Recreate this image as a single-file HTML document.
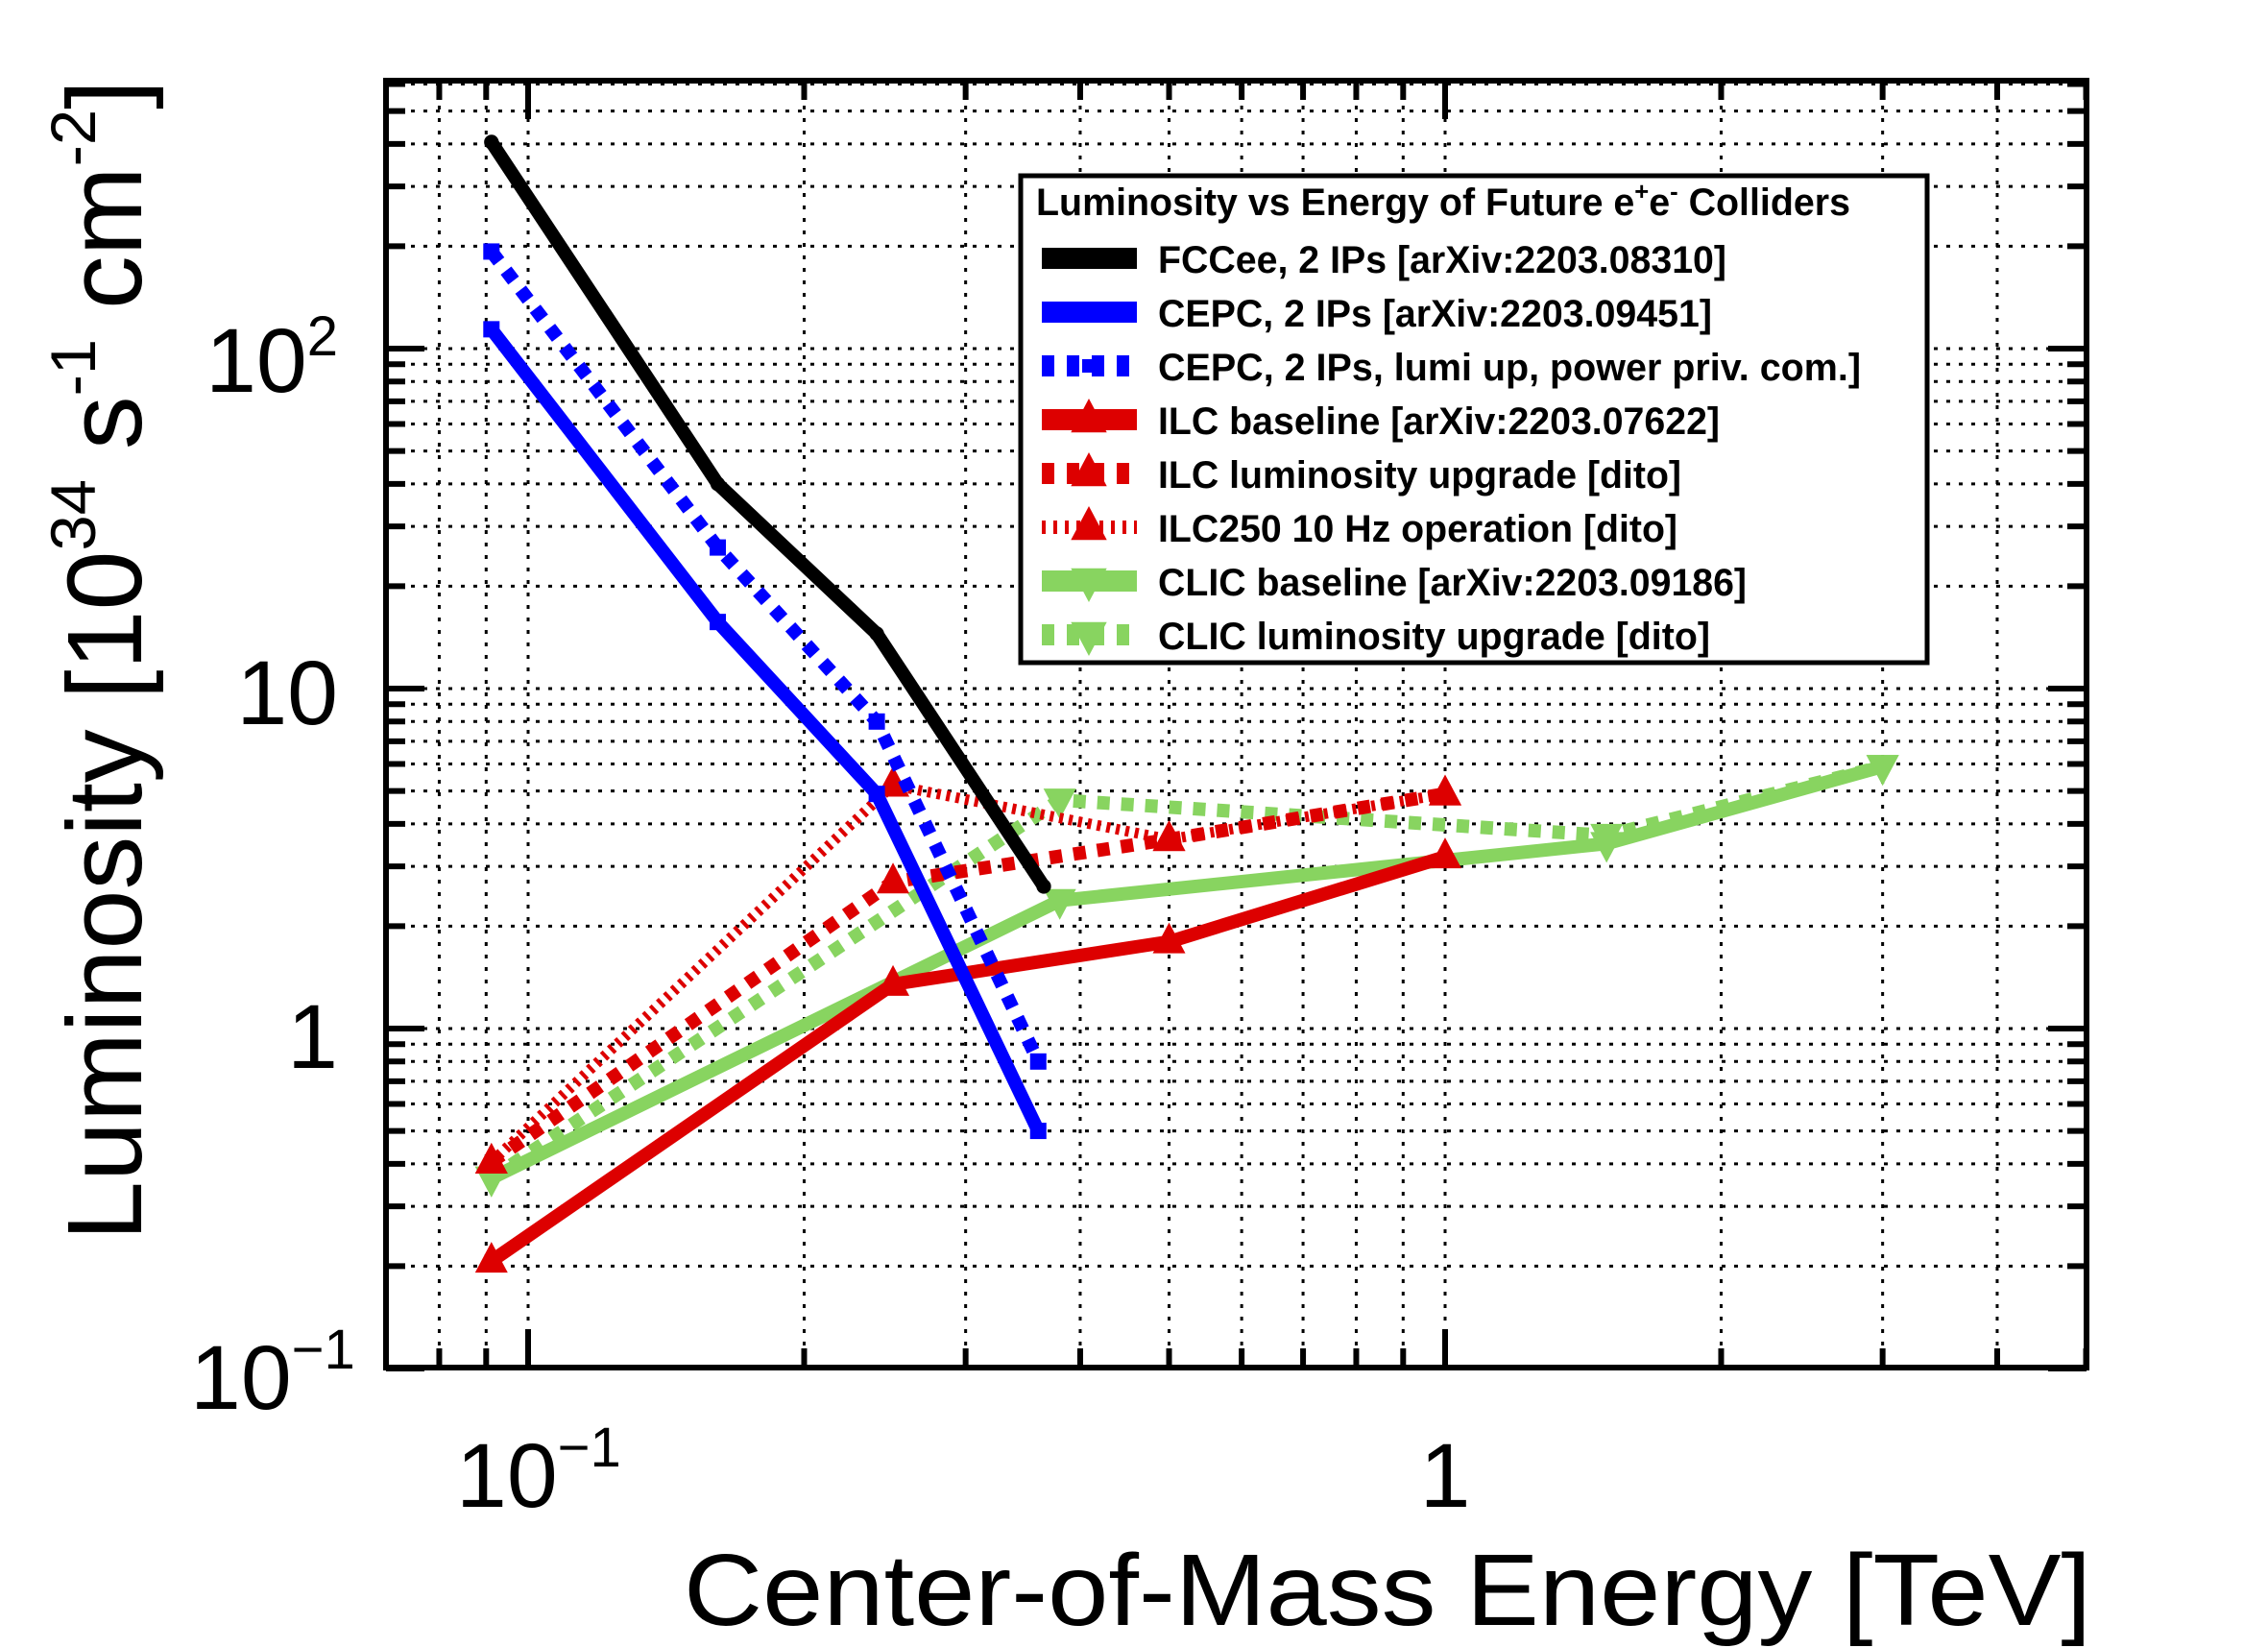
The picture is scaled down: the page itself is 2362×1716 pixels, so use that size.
<!DOCTYPE html>
<html><head><meta charset="utf-8"><style>
html,body{margin:0;padding:0;background:#fff}
svg{display:block}
text{font-family:"Liberation Sans",sans-serif}
.leg{font-family:"Liberation Sans Narrow","Liberation Sans",sans-serif;font-weight:bold;font-size:40px}
</style></head><body>
<svg id="chart" width="2362" height="1716" viewBox="0 0 2362 1716" xmlns="http://www.w3.org/2000/svg">
<g id="grid"></g>
<g id="ticks"></g>
<g id="series"></g>
<rect x="402" y="84" width="1771" height="1340" fill="none" stroke="#000" stroke-width="6"/>
<g font-size="95">
<text x="352" y="408" text-anchor="end">10<tspan font-size="58" dy="-38">2</tspan></text>
<text x="352" y="754" text-anchor="end">10</text>
<text x="352" y="1112" text-anchor="end">1</text>
<text x="198" y="1467">10<tspan font-size="58" dy="-42">−1</tspan></text>
</g>
<g font-size="95">
<text x="475" y="1569">10<tspan font-size="58" dy="-42">−1</tspan></text>
<text x="1505" y="1569" text-anchor="middle">1</text>
</g>
<text x="712" y="1692" font-size="106" textLength="1466" lengthAdjust="spacingAndGlyphs">Center-of-Mass Energy [TeV]</text>
<text transform="translate(147,1292) rotate(-90)" font-size="110" textLength="1209" lengthAdjust="spacingAndGlyphs">Luminosity [10<tspan font-size="66" dy="-48">34</tspan><tspan dy="48"> s</tspan><tspan font-size="66" dy="-48">-1</tspan><tspan dy="48"> cm</tspan><tspan font-size="66" dy="-48">-2</tspan><tspan dy="48">]</tspan></text>
<g id="legend">
<rect x="1063" y="183" width="944" height="507" fill="#fff" stroke="#000" stroke-width="5"/>
<text class="leg" x="1079" y="224" textLength="848" lengthAdjust="spacingAndGlyphs">Luminosity vs Energy of Future e<tspan font-size="26" dy="-16">+</tspan><tspan dy="16">e</tspan><tspan font-size="26" dy="-16">-</tspan><tspan dy="16"> Colliders</tspan></text>
</g>
</svg>
<script>
const xCategoriesFCC = [0.0912, 0.161, 0.24, 0.365];
const fccValues = [405, 40, 14.5, 2.62];
const xCategoriesCEPC = [0.0912, 0.161, 0.24, 0.36];
const cepcValues = [114, 15.7, 4.9, 0.5];
const cepcUpValues = [193, 26, 8.0, 0.8];
const xCategoriesILC = [0.0912, 0.25, 0.5, 1.0];
const ilcValues = [0.207, 1.35, 1.8, 3.2];
const ilcUpValues = [0.405, 2.7, 3.6, 4.9];
const ilc10HzValues = [0.405, 5.2, 3.6, 4.9];
const xCategoriesCLIC = [0.0912, 0.38, 1.5, 3.0];
const clicValues = [0.363, 2.38, 3.5, 5.9];
const clicUpValues = [0.363, 4.7, 3.7, 5.9];
const legendLabels = ["FCCee, 2 IPs [arXiv:2203.08310]","CEPC, 2 IPs [arXiv:2203.09451]","CEPC, 2 IPs, lumi up, power priv. com.]","ILC baseline [arXiv:2203.07622]","ILC luminosity upgrade [dito]","ILC250 10 Hz operation [dito]","CLIC baseline [arXiv:2203.09186]","CLIC luminosity upgrade [dito]"];
const legendWidths = [592, 577, 732, 585, 545, 541, 613, 575];

const NS="http://www.w3.org/2000/svg";
const L=402,R=2173,T=84,B=1424;
const X1=1505,XDEC=955, Y1=1071,YDEC=354;
function xs(v){return X1+Math.log10(v)*XDEC;}
function ys(v){return Y1-Math.log10(v)*YDEC;}
function mk(tag,attrs,parent){const e=document.createElementNS(NS,tag);for(const k in attrs)e.setAttribute(k,attrs[k]);parent.appendChild(e);return e;}

const grid=document.getElementById('grid'), ticks=document.getElementById('ticks');
const xg=[0.08,0.09]; for(let d=-1;d<=0;d++)for(let m=1;m<=9;m++){const v=m*Math.pow(10,d);if(v<=5)xg.push(v);}
xg.forEach(v=>{const x=xs(v);
  const g=mk('line',{x1:x,x2:x,y1:T,y2:B,stroke:'#000','stroke-width':3,'stroke-dasharray':'4 9'},grid);
  
  const major=Math.abs(Math.log10(v)-Math.round(Math.log10(v)))<1e-6;const len=major?40:20;
  const t1=mk('line',{x1:x,x2:x,y1:B,y2:B-len,stroke:'#000','stroke-width':6},ticks);
  
  const t2=mk('line',{x1:x,x2:x,y1:T,y2:T+len,stroke:'#000','stroke-width':6},ticks);
  
});
const yg=[]; for(let d=-1;d<=2;d++)for(let m=1;m<=9;m++){const v=m*Math.pow(10,d);if(v<=600)yg.push(v);}
yg.forEach(v=>{const y=ys(v);
  if(v>0.1){const g=mk('line',{x1:L,x2:R,y1:y,y2:y,stroke:'#000','stroke-width':3,'stroke-dasharray':'4 9'},grid);
  }
  const major=Math.abs(Math.log10(v)-Math.round(Math.log10(v)))<1e-6;const len=major?40:20;
  const t1=mk('line',{x1:L,x2:L+len,y1:y,y2:y,stroke:'#000','stroke-width':6},ticks);
  
  const t2=mk('line',{x1:R,x2:R-len,y1:y,y2:y,stroke:'#000','stroke-width':6},ticks);
  
});

const series=[
 {xs:xCategoriesFCC,vals:fccValues,color:'#000',dash:null,mark:'circle',name:'fccee'},
 {xs:xCategoriesCEPC,vals:cepcValues,color:'#0000ff',dash:null,mark:'square',name:'cepc'},
 {xs:xCategoriesCEPC,vals:cepcUpValues,color:'#0000ff',dash:'13 12',mark:'square',name:'cepc-lumi-up'},
 {xs:xCategoriesILC,vals:ilcValues,color:'#dd0000',dash:null,mark:'tri-up',name:'ilc-baseline'},
 {xs:xCategoriesILC,vals:ilcUpValues,color:'#dd0000',dash:'13 12',mark:'tri-up',name:'ilc-upgrade'},
 {xs:xCategoriesILC,vals:ilc10HzValues,color:'#dd0000',dash:'4 6',mark:'tri-up',name:'ilc250-10hz'},
 {xs:xCategoriesCLIC,vals:clicValues,color:'#88d460',dash:null,mark:'tri-down',name:'clic-baseline'},
 {xs:xCategoriesCLIC,vals:clicUpValues,color:'#88d460',dash:'13 12',mark:'tri-down',name:'clic-upgrade'}
];
const sg=document.getElementById('series');
function marker(type,x,y,color,parent,s){
  let e;
  if(type==='circle')e=mk('circle',{cx:x,cy:y,r:s*0.45,fill:color},parent);
  else if(type==='square')e=mk('rect',{x:x-s*0.5,y:y-s*0.5,width:s,height:s,fill:color},parent);
  else if(type==='tri-up')e=mk('polygon',{points:`${x},${y-s} ${x-s*0.85},${y+s*0.6} ${x+s*0.85},${y+s*0.6}`,fill:color},parent);
  else e=mk('polygon',{points:`${x},${y+s} ${x-s*0.85},${y-s*0.6} ${x+s*0.85},${y-s*0.6}`,fill:color},parent);
  return e;
}
const drawOrder=[6,7,3,4,5,0,1,2];
drawOrder.forEach(i=>{const s=series[i];
  const g=mk('g',{},sg);
  
  
  const pts=s.xs.map((x,j)=>xs(x)+','+ys(s.vals[j])).join(' ');
  const a={points:pts,fill:'none',stroke:s.color,'stroke-width':i===5?11:14,'stroke-linejoin':'round'};
  if(s.dash)a['stroke-dasharray']=s.dash;
  const pl=mk('polyline',a,g);
  
  
  s.xs.forEach((x,j)=>{const m=marker(s.mark,xs(x),ys(s.vals[j]),s.color,g,s.mark.startsWith('tri')?20:17);
    
    });
});

const lg=document.getElementById('legend');
series.forEach((s,i)=>{const cy=269+i*56;
  const g=mk('g',{},lg);
  
  
  const a={x1:1085,x2:1184,y1:cy,y2:cy,stroke:s.color,'stroke-width':i===5?14:22};
  if(s.dash)a['stroke-dasharray']=(i===5?'4 8':'13 13');
  mk('line',a,g);
  marker(s.mark,1134,cy,s.color,g,s.mark.startsWith('tri')?22:14);
  const t=mk('text',{class:'leg',x:1206,y:cy+15,textLength:legendWidths[i],lengthAdjust:'spacingAndGlyphs'},g);
  t.textContent=legendLabels[i];
  
  
});
</script>
</body></html>
